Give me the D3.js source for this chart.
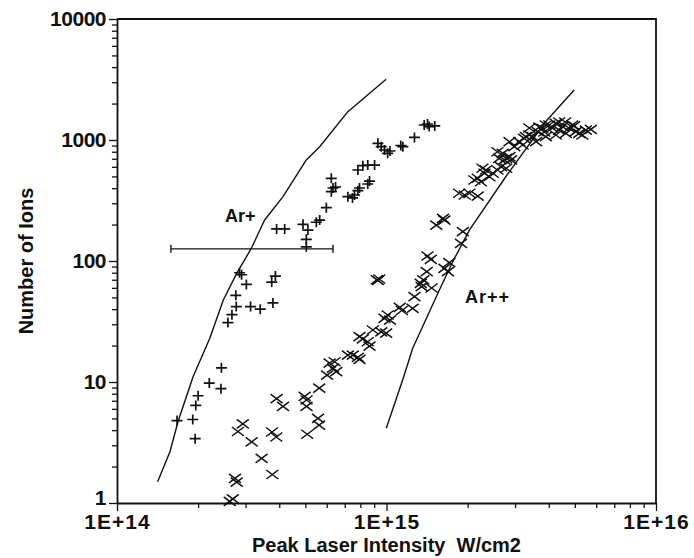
<!DOCTYPE html>
<html>
<head>
<meta charset="utf-8">
<script src="https://cdn.jsdelivr.net/npm/d3@7"></script>
<style>
  body { margin: 0; background: #fff; }
  text { font-family: "Liberation Sans", Arial, Helvetica, sans-serif; fill: #111; }
</style>
</head>
<body>
<div id="chart"></div>
<script>
// Ar+ measured points [intensity W/cm2, number of ions]
var arPlus = [
  [1.67e14, 4.8], [1.91e14, 4.9], [1.95e14, 3.4], [1.96e14, 6.4], [2.0e14, 7.7],
  [2.2e14, 9.8], [2.44e14, 13.1], [2.43e14, 8.8], [2.58e14, 31], [2.67e14, 36],
  [2.77e14, 42], [2.76e14, 52], [2.85e14, 80], [2.9e14, 77], [3.02e14, 64],
  [3.13e14, 42], [3.4e14, 40], [3.79e14, 45], [3.75e14, 67], [3.87e14, 75],
  [3.91e14, 184], [4.19e14, 184], [4.9e14, 201], [5.11e14, 180], [5.04e14, 151],
  [5.04e14, 131], [5.49e14, 209], [5.65e14, 218], [5.98e14, 276], [6.24e14, 374],
  [6.33e14, 401], [6.24e14, 482], [6.47e14, 409], [7.19e14, 340], [7.48e14, 332],
  [7.61e14, 351], [7.83e14, 381], [7.94e14, 401], [8.52e14, 433], [8.65e14, 458],
  [7.83e14, 565], [8.17e14, 613], [8.52e14, 621], [9.03e14, 621], [9.29e14, 939],
  [9.56e14, 881], [9.83e14, 827], [1.01e15, 776], [1.03e15, 811], [1.13e15, 901],
  [1.15e15, 881], [1.27e15, 1050], [1.38e15, 1330], [1.42e15, 1356], [1.44e15, 1290],
  [1.51e15, 1306]
];

// Ar++ measured points
var arPlusPlus = [
  [2.62e14, 1.03], [2.69e14, 1.08], [2.74e14, 1.6], [2.78e14, 1.49], [2.81e14, 3.9],
  [2.93e14, 4.5], [3.16e14, 3.2], [3.44e14, 2.34], [3.77e14, 1.72], [3.76e14, 3.86],
  [3.9e14, 3.51], [3.91e14, 7.3], [4.13e14, 6.3], [4.97e14, 7.6], [5.05e14, 7.1],
  [5.05e14, 6.3], [5.08e14, 3.7], [5.57e14, 5.0], [5.62e14, 4.4], [5.63e14, 8.9],
  [6.02e14, 11.4], [6.15e14, 14.3], [6.42e14, 14.7], [6.33e14, 13.0], [6.51e14, 12.2],
  [7.19e14, 16.7], [7.5e14, 16.7], [7.83e14, 16.0], [7.94e14, 15.4], [7.94e14, 23.7],
  [8.17e14, 22.7], [8.52e14, 21.5], [8.65e14, 19.8], [8.9e14, 26.9], [9.56e14, 26],
  [9.97e14, 25.3], [9.2e14, 70], [9.4e14, 71], [9.3e14, 69], [9.83e14, 33.6],
  [1.01e15, 35.8], [1.03e15, 32.5], [1.12e15, 41.3], [1.14e15, 39], [1.25e15, 40.6],
  [1.27e15, 50.7], [1.34e15, 65.4], [1.37e15, 69.7], [1.35e15, 61.5], [1.47e15, 59.8],
  [1.41e15, 81.6], [1.42e15, 110], [1.46e15, 103], [1.64e15, 87], [1.69e15, 81.6],
  [1.71e15, 96.8], [1.89e15, 140], [1.92e15, 175], [1.53e15, 198], [1.62e15, 225],
  [1.64e15, 218], [1.86e15, 363], [1.95e15, 351], [2.03e15, 363], [2.18e15, 344],
  [2.12e15, 467], [2.18e15, 483], [2.24e15, 452], [2.31e15, 531], [2.41e15, 497],
  [2.34e15, 565], [2.48e15, 531], [2.58e15, 565], [2.66e15, 602], [2.78e15, 584],
  [2.58e15, 800], [2.7e15, 776], [2.78e15, 706], [2.86e15, 728], [2.98e15, 881],
  [2.9e15, 684], [2.86e15, 968], [3.11e15, 968], [3.2e15, 909], [3.29e15, 1065],
  [3.39e15, 1100], [3.48e15, 1065], [3.64e15, 1171], [3.79e15, 1250], [4.02e15, 1330],
  [4.25e15, 1374], [4.5e15, 1288], [4.76e15, 1250], [5.04e15, 1171], [5.19e15, 1136],
  [5.49e15, 1209], [5.73e15, 1226], [5.33e15, 1100], [3.59e15, 968], [3.9e15, 1065],
  [4.25e15, 1100], [4.63e15, 1136], [3.9e15, 1330], [2.27e15, 584], [2.62e15, 706],
  [2.74e15, 684], [3.24e15, 1033], [4.37e15, 1209], [4.12e15, 1256], [4.89e15, 1330],
  [3.69e15, 1280], [3.39e15, 1256], [3.85e15, 1164], [4.37e15, 1409], [4.6e15, 1409],
  [4.97e15, 1306]
];

// calculated curves
var arPlusCurve = [
  [1.415e14, 1.5], [1.572e14, 2.65], [1.687e14, 4.76], [1.917e14, 11.1], [2.21e14, 23],
  [2.48e14, 47.6], [2.78e14, 79], [3.15e14, 127], [3.53e14, 218], [4.13e14, 340],
  [5.04e14, 684], [5.65e14, 880], [7.19e14, 1714], [9.97e14, 3175]
];
var arPlusPlusCurve = [
  [9.98e14, 4.14], [1.148e15, 10.4], [1.251e15, 19], [1.571e15, 57.6], [1.761e15, 98.7],
  [2.03e15, 180], [2.77e15, 497], [3.9e15, 1422], [4.97e15, 2589]
];

// horizontal error bar: [low, high, number]
var errorBar = [1.585e14, 6.33e14, 126];

var xMajor = [1e14, 1e15, 1e16];
var xMajorLabels = ["1E+14", "1E+15", "1E+16"];
var yMajor = [1, 10, 100, 1000, 10000];

var W = 694, H = 558;
var margin = { top: 19, right: 38, bottom: 55, left: 117 };

var svg = d3.select("#chart").append("svg")
  .attr("width", W)
  .attr("height", H);

var xScale = d3.scaleLog()
  .domain([1e14, 1e16])
  .range([margin.left, W - margin.right]);

var yScale = d3.scaleLog()
  .domain([1, 10000])
  .range([H - margin.bottom, margin.top]);

// minor tick values, 2..9 per decade
function minors(lo, hi) {
  var out = [];
  for (var d = lo; d < hi; d *= 10) {
    for (var k = 2; k <= 9; k++) out.push(d * k);
  }
  return out;
}

// minor ticks
svg.append("g")
  .attr("transform", "translate(0," + (H - margin.bottom) + ")")
  .call(d3.axisBottom(xScale).tickValues(minors(1e14, 1e16)).tickSize(5).tickFormat(""))
  .call(g => g.select(".domain").remove());

svg.append("g")
  .attr("transform", "translate(" + margin.left + ",0)")
  .call(d3.axisLeft(yScale).tickValues(minors(1, 10000)).tickSize(5).tickFormat(""))
  .call(g => g.select(".domain").remove());

// major ticks + labels
var xAxis = svg.append("g")
  .attr("transform", "translate(0," + (H - margin.bottom) + ")")
  .call(d3.axisBottom(xScale).tickValues(xMajor).tickSize(8).tickSizeOuter(0)
    .tickFormat((d, i) => xMajorLabels[i]));

var yAxis = svg.append("g")
  .attr("transform", "translate(" + margin.left + ",0)")
  .call(d3.axisLeft(yScale).tickValues(yMajor).tickSize(8).tickSizeOuter(0)
    .tickFormat(d3.format("d")));

svg.selectAll(".tick line").attr("stroke", "#111").attr("stroke-width", 1.3);
svg.selectAll(".domain").attr("stroke", "#111").attr("stroke-width", 1.8);

xAxis.selectAll("text")
  .attr("font-size", "21px")
  .attr("font-weight", "bold")
  .attr("letter-spacing", "1px")
  .attr("fill", "#111");
yAxis.selectAll("text")
  .attr("font-size", "21px")
  .attr("font-weight", "bold")
  .attr("letter-spacing", "-0.5px")
  .attr("fill", "#111")
  .attr("dy", d => d === 1 ? "0.05em" : "0.32em");

// top and right frame
svg.append("path")
  .attr("d", "M" + margin.left + "," + margin.top + "H" + (W - margin.right) + "V" + (H - margin.bottom))
  .attr("fill", "none")
  .attr("stroke", "#111")
  .attr("stroke-width", 1.8);

// curves
var line = d3.line()
  .x(d => xScale(d[0]))
  .y(d => yScale(d[1]));

[arPlusCurve, arPlusPlusCurve].forEach(c => {
  svg.append("path")
    .datum(c)
    .attr("d", line)
    .attr("fill", "none")
    .attr("stroke", "#111")
    .attr("stroke-width", 1.4)
    .attr("stroke-linejoin", "round");
});

// error bar
var ey = yScale(errorBar[2]);
svg.append("line")
  .attr("x1", xScale(errorBar[0])).attr("x2", xScale(errorBar[1]))
  .attr("y1", ey).attr("y2", ey)
  .attr("stroke", "#111").attr("stroke-width", 1.4);
[errorBar[0], errorBar[1]].forEach(v => {
  svg.append("line")
    .attr("x1", xScale(v)).attr("x2", xScale(v))
    .attr("y1", ey - 4).attr("y2", ey + 4)
    .attr("stroke", "#111").attr("stroke-width", 1.4);
});

// markers
svg.append("g").selectAll("path")
  .data(arPlus)
  .enter()
  .append("path")
  .attr("transform", d => "translate(" + xScale(d[0]) + "," + yScale(d[1]) + ")")
  .attr("d", "M-5.5,0H5.5M0,-5V5")
  .attr("stroke", "#111")
  .attr("stroke-width", 1.7);

svg.append("g").selectAll("path")
  .data(arPlusPlus)
  .enter()
  .append("path")
  .attr("transform", d => "translate(" + xScale(d[0]) + "," + yScale(d[1]) + ")")
  .attr("d", "M-6,-4.5L6,4.5M-6,4.5L6,-4.5")
  .attr("stroke", "#111")
  .attr("stroke-width", 1.5);

// series labels
svg.append("text")
  .attr("x", 225).attr("y", 222)
  .attr("font-size", "18px")
  .attr("font-weight", "bold")
  .text("Ar+");
svg.append("text")
  .attr("x", 465).attr("y", 303)
  .attr("font-size", "18px")
  .attr("font-weight", "bold")
  .attr("letter-spacing", "1px")
  .text("Ar++");

// axis titles
svg.append("text")
  .attr("x", xScale(1e15))
  .attr("y", 552)
  .attr("text-anchor", "middle")
  .attr("font-size", "20px")
  .attr("font-weight", "bold")
  .attr("xml:space", "preserve")
  .text("Peak Laser Intensity  W/cm2");

svg.append("text")
  .attr("transform", "translate(33," + yScale(100) + ") rotate(-90)")
  .attr("text-anchor", "middle")
  .attr("font-size", "20px")
  .attr("font-weight", "bold")
  .text("Number of Ions");
</script>
</body>
</html>
